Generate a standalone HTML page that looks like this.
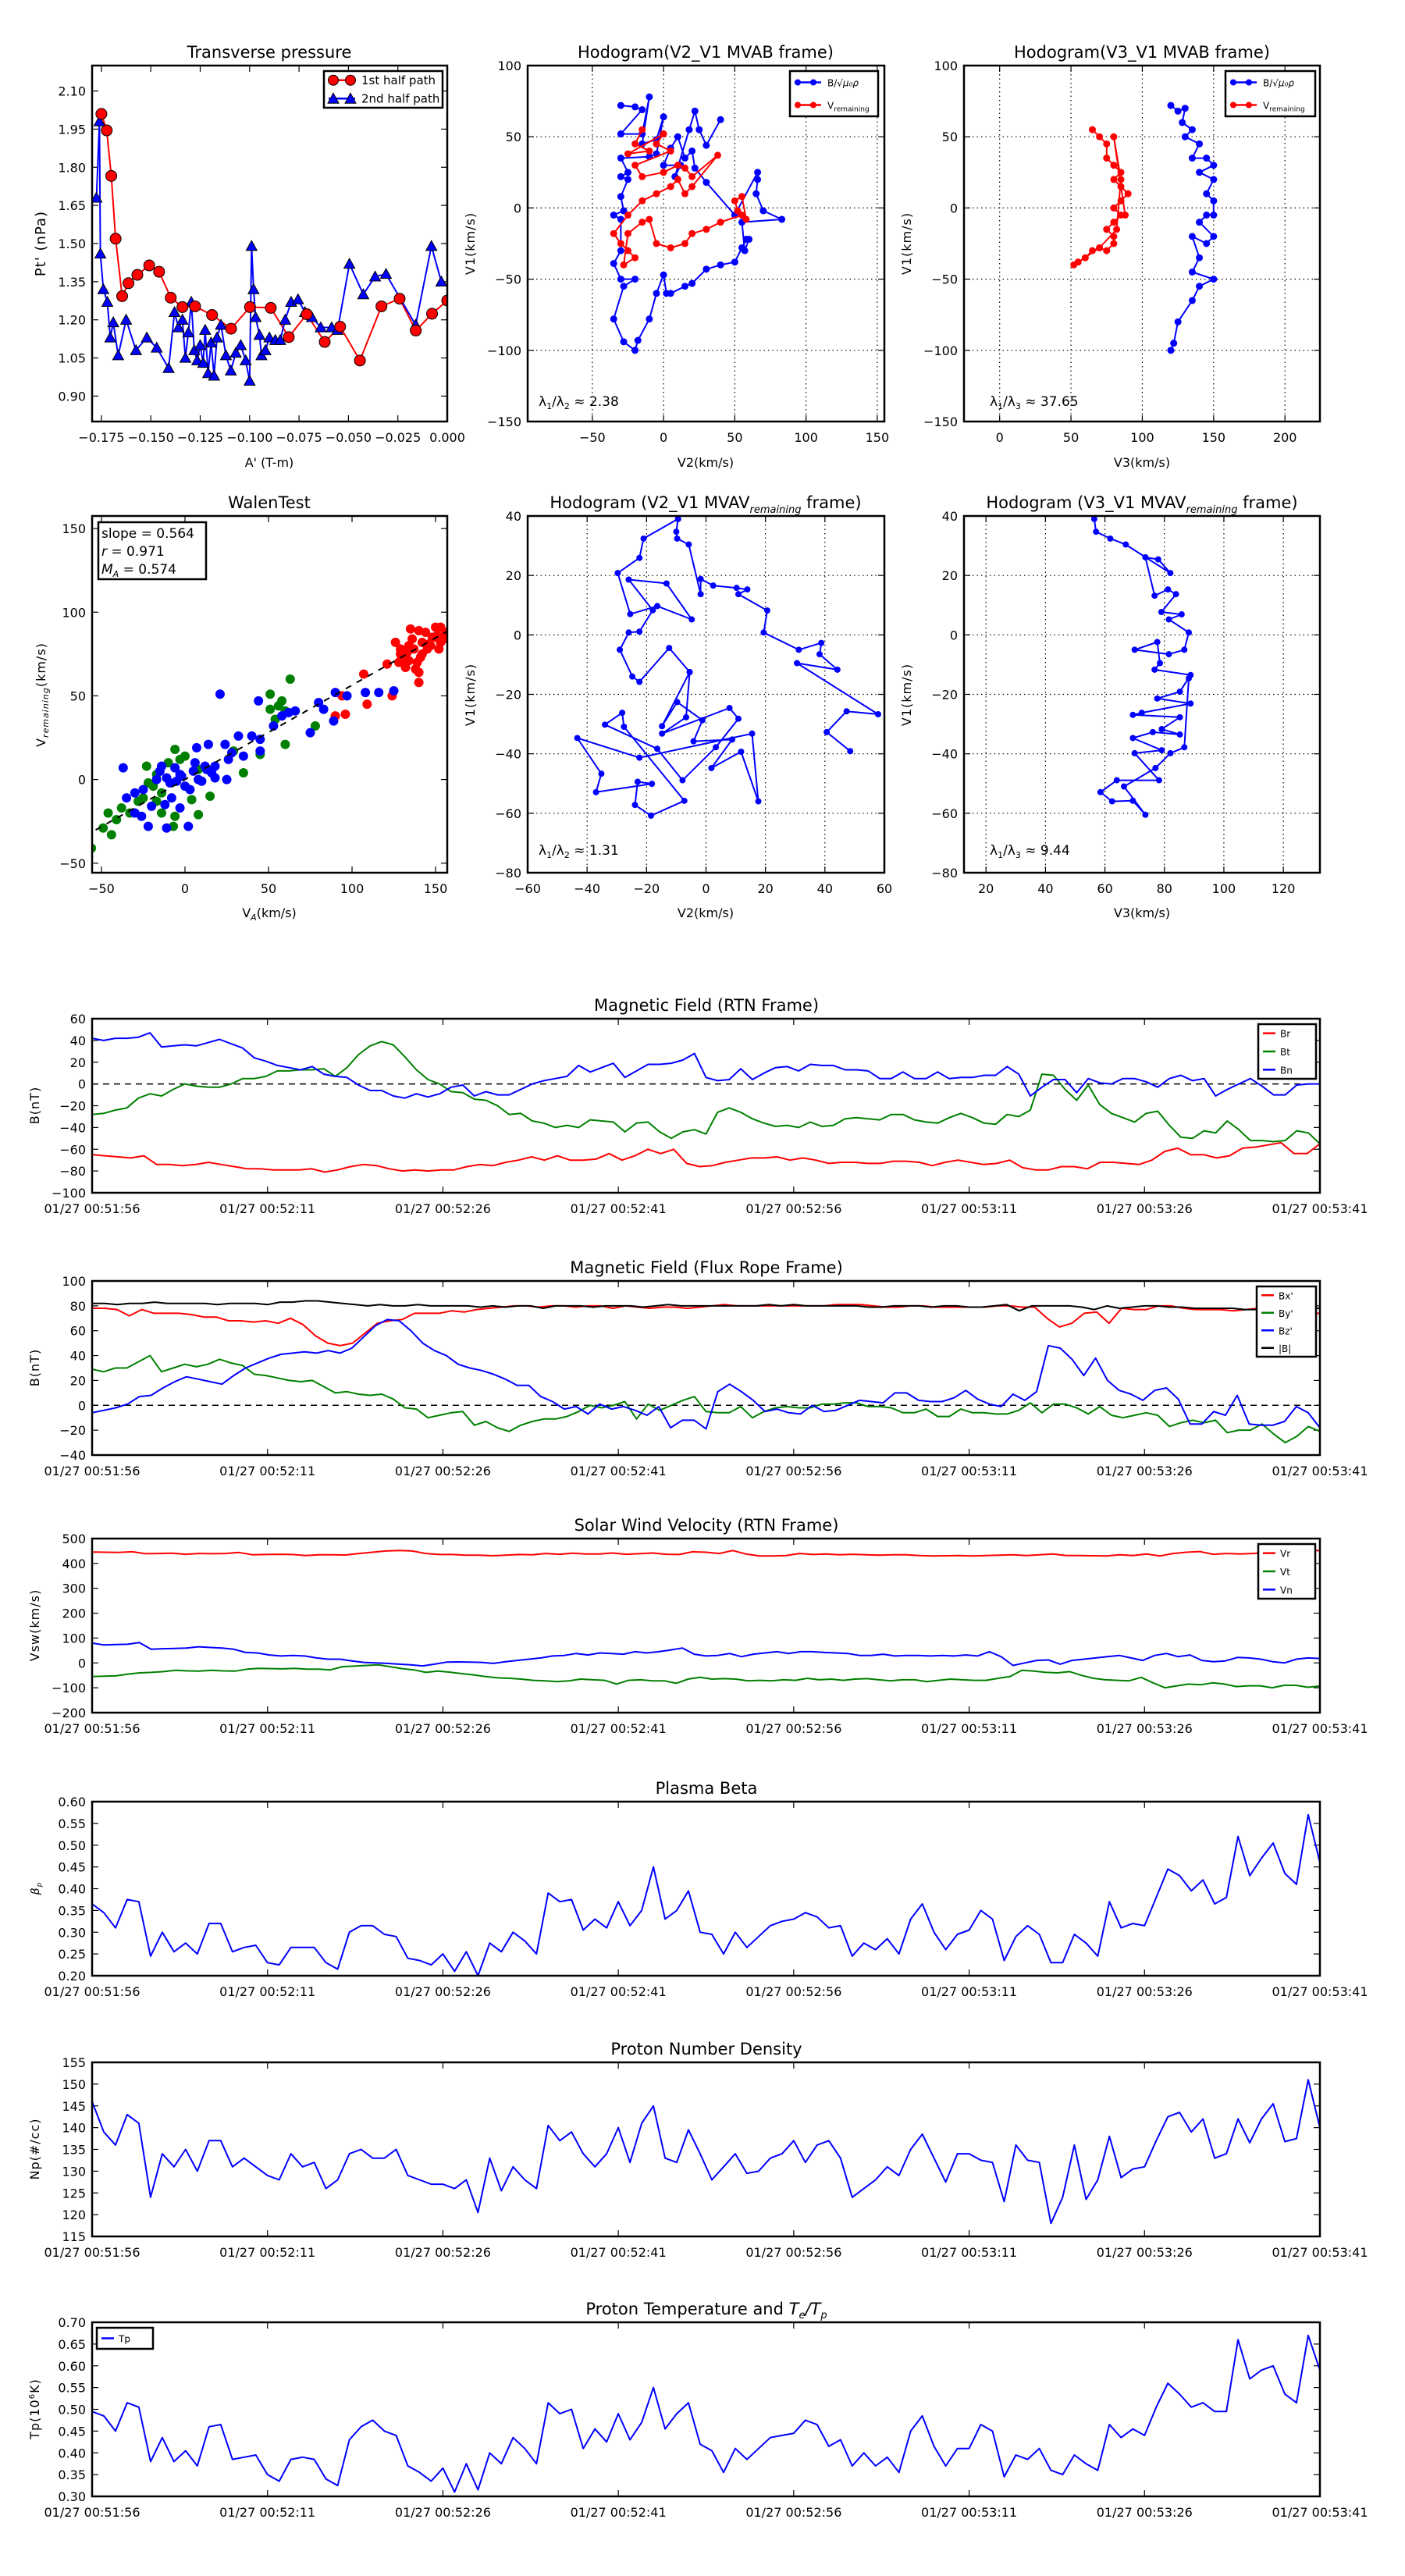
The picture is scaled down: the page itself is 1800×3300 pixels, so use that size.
<!DOCTYPE html>
<html><head><meta charset="utf-8">
<style>
html,body{margin:0;padding:0;background:#fff;}
svg{display:block;font-family:"DejaVu Sans","Liberation Sans",sans-serif;}
</style></head>
<body>
<svg id="fig" xmlns="http://www.w3.org/2000/svg" width="1800" height="3300" viewBox="0 0 1800 3300"></svg>
<script>
// ===== Transverse pressure =====
const ptRedX=[-0.175,-0.1723,-0.170,-0.1678,-0.1645,-0.1613,-0.1568,-0.1508,-0.1458,-0.1399,-0.134,-0.1276,-0.119,-0.1094,-0.0998,-0.0893,-0.0802,-0.0711,-0.062,-0.0542,-0.0442,-0.0333,-0.0241,-0.0159,-0.0077,0];
const ptRedY=[2.01,1.945,1.766,1.519,1.293,1.344,1.377,1.414,1.389,1.287,1.25,1.253,1.219,1.165,1.25,1.247,1.132,1.222,1.113,1.173,1.04,1.253,1.283,1.158,1.224,1.276];
const ptBlueX=[-0.1775,-0.176,-0.1755,-0.174,-0.172,-0.1705,-0.169,-0.1665,-0.1625,-0.1575,-0.152,-0.147,-0.141,-0.138,-0.136,-0.134,-0.1325,-0.131,-0.1295,-0.128,-0.1265,-0.125,-0.1235,-0.1225,-0.121,-0.1195,-0.118,-0.1165,-0.1145,-0.112,-0.1095,-0.107,-0.1045,-0.102,-0.1,-0.099,-0.098,-0.097,-0.095,-0.094,-0.092,-0.09,-0.087,-0.0845,-0.082,-0.079,-0.0755,-0.072,-0.0685,-0.064,-0.0585,-0.0555,-0.0495,-0.0425,-0.0365,-0.031,-0.016,-0.008,-0.003];
const ptBlueY=[1.68,1.98,1.46,1.32,1.27,1.13,1.19,1.06,1.2,1.08,1.13,1.09,1.01,1.23,1.17,1.2,1.05,1.15,1.27,1.08,1.04,1.1,1.03,1.16,0.99,1.11,0.98,1.13,1.18,1.06,1.0,1.07,1.1,1.04,0.96,1.49,1.32,1.21,1.14,1.06,1.08,1.13,1.12,1.12,1.2,1.27,1.28,1.23,1.21,1.17,1.17,1.16,1.42,1.3,1.37,1.38,1.18,1.49,1.35];
// ===== Hodogram V2-V1 MVAB =====
const h1BlueX=[-30,-20,-15,-30,-15,-10,-15,-5,0,-5,-10,-30,-25,-30,-25,-30,-28,-35,-30,-30,-35,-30,-20,-28,-35,-28,-20,-18,-10,-5,0,2,5,15,20,30,40,50,55,58,60,57,55,83,70,65,66,66,50,30,22,20,15,10,5,0,12,8,18,22,25,30,40];
const h1BlueY=[72,71,69,52,52,78,45,48,64,38,36,35,25,22,20,8,-2,-5,-8,-30,-39,-50,-50,-55,-78,-94,-100,-93,-78,-60,-47,-60,-60,-55,-53,-43,-40,-38,-28,-22,-22,-30,-10,-8,-2,10,20,25,-5,18,28,40,35,50,42,30,30,22,55,68,55,44,62];
const h1RedX=[-15,-20,-10,-25,0,-5,5,-20,-15,0,10,15,20,38,20,15,10,5,-5,-15,-25,-35,-30,-25,-20,-28,-25,-15,-10,-5,5,15,20,30,40,55,52,50,55,58];
const h1RedY=[55,45,40,38,52,45,40,30,22,25,30,28,22,37,15,10,20,15,10,5,-5,-18,-25,-30,-35,-40,-18,-10,-8,-25,-28,-25,-18,-15,-10,-5,-2,5,8,-8];
// ===== Hodogram V3-V1 MVAB =====
const h2BlueX=[120,125,130,128,135,130,140,135,145,150,140,150,145,150,150,145,140,150,145,135,140,135,150,140,135,125,122,120];
const h2BlueY=[72,68,70,60,55,50,45,35,35,30,25,20,10,5,-5,-5,-10,-20,-25,-20,-35,-45,-50,-55,-65,-80,-95,-100];
const h2RedX=[65,70,75,75,80,85,80,85,90,85,80,85,80,75,80,80,75,70,65,60,55,52,70,82,85,80,88];
const h2RedY=[55,50,45,35,30,25,20,15,10,5,0,-5,-10,-15,-20,-25,-30,-28,-30,-35,-38,-40,-28,-15,20,50,-5];
// ===== Walen test =====
const wRedX=[126,129,134,137,140,142,148,150,153,145,132,140,121,107,140,124,109,96,90,94,134,142,150,153,129,131,136,139,144,147,151,155,128,133,138,146,152,156,135,141];
const wRedY=[82,75,71,78,89,82,85,91,82,78,67,64,69,63,58,50,45,39,38,50,80,75,85,91,78,72,84,70,88,80,86,84,70,76,66,81,78,88,90,73];
const wBlueX=[21,44,90,97,108,116,125,80,83,66,53,45,32,24,14,7,45,35,26,18,13,5,-3,-11,-17,-25,-30,-35,-30,-22,-11,2,-3,-8,0,8,18,25,12,-37,-15,-6,-14,75,89,-5,-9,-2,3,6,-12,-20,-26,10,16,28,40,58,62];
const wBlueY=[51,47,52,50,52,52,53,46,42,41,32,24,26,21,21,19,17,14,12,8,6,5,3,1,0,-6,-8,-11,-20,-28,-29,-28,-17,-11,-4,0,1,0,8,7,5,7,8,28,35,-1,-2,2,-6,10,-15,-16,-22,-1,4,16,26,38,40];
const wGreenX=[63,51,58,51,60,78,60,35,45,29,8,-6,0,-23,-17,-22,-14,-17,-25,-38,-46,-41,-49,-44,-56,8,15,-6,-14,-7,-10,-3,4,-19,-28,-33,54,56];
const wGreenY=[60,51,47,42,41,32,21,4,15,17,6,18,14,8,3,-2,-8,-13,-11,-17,-20,-24,-29,-33,-41,-21,-10,-22,-20,-28,10,12,-12,-4,-13,-20,36,44];
const walenSlope=[0.564];
// ===== Hodogram MVAV V2-V1 =====
const h3X=[-9.4,-10,-9.7,-5.8,-1.8,-1.8,2.4,10.3,13.9,10.9,20.6,19.4,31.2,38.8,38.2,44.2,30.6,57.9,47.3,40.6,48.5];
const h3Y=[39,34.7,32.4,30.4,13.7,18.8,16.6,15.8,15.3,13.7,8.2,0.8,-5,-2.7,-6.5,-11.7,-9.5,-26.7,-25.7,-32.7,-39.1];
const h3bX=[-9.4,-21,-22.4,-29.7,-25.5,-16.4,-4.8,-13.3,-26,-17.9,-22.4,-26,-29,-24.8,-22.4,-12.4,-5.5,-6.7,-14.8,7.9,10.9,3.3,-7.9,-16.4,-34,-28.2,-27.6,-7.3,-18.5,-23.9,-23,-18.2,-37,-35.2,-43.3,-22.4,15.5,17.6,11.8,1.8,8.8,-4.2,-1.2,-9.7,-14.8,-5.5];
const h3bY=[39,32.4,25.9,20.8,7,9.7,5.2,17.3,18.6,8.3,1.1,0.8,-5,-14,-15.8,-4.4,-12.5,-27.7,-33.2,-24.6,-28.2,-37.8,-48.9,-38.3,-30.2,-26.2,-30.9,-55.8,-60.8,-57.2,-49.4,-50.1,-52.9,-46.7,-34.7,-41.3,-33.2,-56,-39.3,-44.8,-35.2,-35.8,-28.7,-22.6,-30.7,-12.5];
// ===== Hodogram MVAV V3-V1 =====
const h4X=[56.4,57,61.8,67,82,77.9,73.6,76.7,81.2,83.9,79,85.8,81.5,88.2,86.7,81.5,70,77.6,78.5,76.7,88.8,85.2,77.6,88.8,72.4,69.4,85.2,79.1,85.2,76.1,69.4,79.1,70,78.2,64,58.5,62.4,69.4,73.6,66.4,77,82,86.7,88.2];
const h4Y=[39,34.7,32.4,30.4,20.8,25.4,26.1,13.2,15.3,13.7,7.7,6.9,5.2,0.8,-5,-6.5,-5,-2.4,-9.5,-11.7,-13.5,-19.1,-21.4,-23.1,-26.2,-26.9,-27.7,-31.7,-33.5,-32.7,-34.7,-38.8,-39.8,-48.9,-48.9,-52.9,-56,-55.8,-60.5,-51,-44.8,-39.8,-37.8,-14.6];
// ===== Time series =====
const timeTicks=["01/27 00:51:56","01/27 00:52:11","01/27 00:52:26","01/27 00:52:41","01/27 00:52:56","01/27 00:53:11","01/27 00:53:26","01/27 00:53:41"];
const Br=[-65,-66,-67,-68,-66,-74,-74,-75,-74,-72,-74,-76,-78,-78,-79,-79,-79,-78,-81,-79,-76,-74,-75,-78,-80,-79,-80,-79,-79,-76,-74,-75,-72,-70,-67,-70,-66,-70,-70,-69,-64,-70,-66,-60,-64,-60,-73,-76,-75,-72,-70,-68,-68,-67,-70,-68,-70,-73,-72,-72,-73,-73,-71,-71,-72,-75,-72,-70,-72,-74,-73,-70,-77,-79,-79,-76,-76,-78,-72,-72,-73,-74,-70,-62,-59,-65,-65,-68,-66,-59,-58,-56,-54,-64,-64,-55];
const Bt=[-28,-27,-24,-22,-13,-9,-11,-5,0,-2,-3,-3,0,5,5,7,12,12,13,13,14,7,15,27,35,39,36,25,13,4,0,-7,-8,-14,-15,-20,-28,-27,-34,-36,-40,-38,-40,-33,-34,-35,-44,-36,-35,-44,-50,-44,-42,-46,-26,-22,-26,-32,-36,-39,-38,-40,-35,-39,-38,-32,-31,-32,-33,-28,-28,-33,-35,-36,-31,-27,-31,-36,-37,-28,-30,-24,9,8,-5,-15,-1,-19,-27,-31,-35,-27,-25,-38,-49,-50,-43,-45,-34,-42,-52,-52,-53,-52,-43,-45,-55];
const Bn=[42,40,42,42,43,47,34,35,36,35,38,41,37,33,24,21,17,15,13,16,9,7,6,-1,-6,-6,-11,-13,-9,-12,-9,-3,-1,-11,-7,-10,-10,-5,0,3,5,7,17,11,15,19,6,12,18,18,19,22,28,6,3,4,14,4,10,15,16,12,18,17,17,13,13,12,5,5,11,5,5,11,5,6,6,8,8,16,9,-11,-3,4,4,-8,5,1,0,5,5,2,-3,5,8,3,5,-11,-5,0,5,-2,-10,-10,-1,0,0];
const Bxp=[78,78,77,72,77,74,74,74,73,71,71,68,68,67,68,66,70,65,56,50,48,50,58,66,68,69,74,74,74,76,75,77,78,79,80,80,79,80,80,79,80,80,78,80,79,78,79,79,78,79,80,81,80,80,80,80,80,80,80,80,81,81,81,80,79,79,80,80,79,79,79,79,79,80,80,79,79,70,63,66,74,75,66,78,77,77,80,80,78,77,77,77,76,77,78,73,76,75,74,74];
const Byp=[29,27,30,30,35,40,27,30,33,31,33,37,34,32,25,24,22,20,19,20,15,10,11,9,8,9,5,-2,-3,-10,-8,-6,-5,-16,-13,-18,-21,-16,-13,-11,-11,-9,-5,0,-2,0,3,-11,1,-4,0,4,7,-5,-6,-6,-1,-10,-5,-2,-1,-2,-2,1,1,2,2,-1,-1,-2,-6,-6,-3,-9,-9,-3,-6,-6,-7,-7,-4,2,-6,1,1,-2,-7,-1,-8,-10,-8,-6,-8,-17,-14,-12,-14,-12,-22,-20,-20,-15,-23,-30,-25,-17,-21];
const Bzp=[-6,-4,-2,1,7,8,14,19,23,21,19,17,24,30,34,38,41,42,43,42,44,42,46,55,64,69,68,60,50,44,40,33,30,28,25,21,16,16,7,3,-3,-1,-7,1,-3,-1,-4,-8,-1,-18,-12,-12,-19,11,17,11,4,-5,-3,-6,-7,0,-5,-4,0,4,3,2,10,10,4,3,3,6,12,5,1,-1,9,4,11,48,46,37,24,38,20,12,9,4,12,14,5,-15,-15,-5,-8,8,-15,-16,-16,-13,-1,-6,-18];
const Bmag=[82,82,81,82,82,83,82,82,82,82,81,82,82,82,81,83,83,84,84,83,82,81,80,81,80,80,81,80,80,80,80,79,80,79,80,80,78,80,80,80,79,80,80,80,79,80,81,80,80,80,80,80,80,80,81,80,81,80,80,80,80,80,79,79,80,80,80,79,80,80,79,79,80,81,76,80,80,80,80,79,77,80,78,79,80,80,79,79,78,78,78,78,77,77,78,78,78,78,78];
const Vr=[446,445,444,447,439,440,441,437,440,439,440,444,435,436,437,436,432,435,435,434,440,445,450,452,450,440,436,436,433,433,431,433,436,435,440,437,441,438,438,442,437,439,442,437,436,447,445,440,452,438,430,430,432,440,436,438,435,437,435,433,435,435,432,430,431,432,430,432,433,435,432,435,438,432,432,431,430,435,432,438,430,440,445,448,437,440,438,440,445,450,452,450,452];
const Vt=[-55,-53,-52,-45,-40,-38,-35,-30,-32,-33,-30,-32,-33,-25,-22,-23,-24,-22,-25,-25,-28,-15,-13,-10,-8,-15,-23,-28,-38,-33,-37,-43,-48,-55,-60,-62,-65,-70,-72,-75,-72,-65,-68,-70,-85,-70,-68,-72,-72,-82,-65,-58,-65,-63,-65,-72,-70,-72,-68,-70,-62,-68,-65,-70,-65,-63,-68,-72,-68,-68,-75,-70,-65,-68,-70,-70,-62,-55,-30,-33,-38,-40,-35,-50,-62,-68,-70,-72,-58,-80,-100,-92,-85,-88,-80,-85,-95,-92,-92,-100,-90,-90,-98,-93];
const Vn=[80,72,74,75,82,55,57,58,60,65,62,60,55,42,40,32,28,30,28,20,15,15,8,2,0,-2,-5,-8,-12,-5,3,4,3,2,-2,5,10,15,20,28,30,38,32,40,38,35,45,40,45,52,60,35,28,30,38,25,35,40,45,38,45,45,42,40,38,30,30,35,28,30,30,28,30,28,32,28,45,25,-10,0,10,12,-5,10,15,20,25,30,20,10,30,38,25,32,10,5,8,22,20,15,5,0,15,20,18];
const beta=[.365,.345,.31,.375,.37,.245,.30,.255,.275,.25,.32,.32,.255,.265,.27,.23,.225,.265,.265,.265,.23,.215,.30,.315,.315,.295,.29,.24,.235,.225,.25,.21,.255,.20,.275,.255,.30,.28,.25,.39,.37,.375,.305,.33,.31,.37,.315,.35,.45,.33,.35,.395,.30,.295,.25,.30,.265,.29,.315,.325,.33,.345,.335,.31,.315,.245,.275,.26,.285,.25,.33,.365,.30,.26,.295,.305,.35,.33,.235,.29,.315,.295,.23,.23,.295,.275,.245,.37,.31,.32,.315,.38,.445,.43,.395,.42,.365,.38,.52,.43,.47,.505,.435,.41,.57,.46];
const Np=[146,139,136,143,141,124,134,131,135,130,137,137,131,133,131,129,128,134,131,132,126,128,134,135,133,133,135,129,128,127,127,126,128,120.5,133,125.5,131,128,126,140.5,137,139,134,131,134,140,132,141,145,133,132,139.5,134,128,131,134,129.5,130,133,134,137,132,136,137,133,124,126,128,131,129,135,138.5,133,127.5,134,134,132.5,132,123,136,132.5,132,118,124,136,123.5,128,138,128.5,130.5,131,137,142.5,143.5,139,142,133,134,142,136.5,142,145.5,136.8,137.5,151,140];
const Tp=[.495,.485,.45,.515,.505,.38,.435,.38,.405,.37,.46,.465,.385,.39,.395,.35,.335,.385,.39,.385,.34,.325,.43,.46,.475,.45,.44,.37,.355,.335,.365,.31,.375,.315,.40,.375,.435,.41,.375,.515,.49,.50,.41,.455,.425,.49,.43,.47,.55,.455,.49,.515,.42,.405,.355,.41,.385,.41,.435,.44,.445,.475,.465,.415,.43,.37,.40,.37,.39,.355,.45,.485,.415,.37,.41,.41,.465,.45,.345,.395,.385,.41,.36,.35,.395,.375,.36,.465,.435,.455,.44,.505,.56,.535,.505,.515,.495,.495,.66,.57,.59,.60,.535,.515,.67,.59];

const NS="http://www.w3.org/2000/svg";
const svg=document.getElementById('fig');
function mk(tag,parent){const e=document.createElementNS(NS,tag);parent.appendChild(e);return e;}
let clipId=0;
function txt(parent,x,y,s,size,anchor){
  const t=mk('text',parent);
  t.setAttribute('x',x);t.setAttribute('y',y);
  t.setAttribute('font-size',size);t.setAttribute('text-anchor',anchor||'middle');
  t.textContent=s;return t;
}
function range(a,b,st){const r=[];for(let v=a;v<=b+st*1e-6;v+=st)r.push(v);return r;}

function axes(name,x0,y0,w,h,xl,yl,xt,yt,xd,yd,grid,xLabels){
  const g=mk('g',svg);
  
  
  const sx=v=>x0+(v-xl[0])/(xl[1]-xl[0])*w;
  const sy=v=>y0+h-(v-yl[0])/(yl[1]-yl[0])*h;
  const cid='c'+(clipId++);
  const cp=mk('clipPath',g);cp.setAttribute('id',cid);
  const cr=mk('rect',cp);cr.setAttribute('x',x0);cr.setAttribute('y',y0);cr.setAttribute('width',w);cr.setAttribute('height',h);
  const tg=mk('g',g);
  
  
  xt.forEach((v,i)=>{
    const X=sx(v);
    if(grid){const l=mk('line',g);l.setAttribute('x1',X);l.setAttribute('x2',X);l.setAttribute('y1',y0);l.setAttribute('y2',y0+h);l.setAttribute('stroke','#000');l.setAttribute('stroke-dasharray','1.5,4');l.setAttribute('stroke-width','1.2');}
    for(const [a,b] of [[y0+h,y0+h-8],[y0,y0+8]]){const l=mk('line',g);l.setAttribute('x1',X);l.setAttribute('x2',X);l.setAttribute('y1',a);l.setAttribute('y2',b);l.setAttribute('stroke','#000');l.setAttribute('stroke-width','1.2');}
    const s=xLabels?xLabels[i]:(Math.abs(v)<1e-9?(0).toFixed(xd):v.toFixed(xd)).replace('-','\u2212');
    const t=txt(tg,X,y0+h+26,s,16);
    
    
  });
  yt.forEach(v=>{
    const Y=sy(v);
    if(grid){const l=mk('line',g);l.setAttribute('x1',x0);l.setAttribute('x2',x0+w);l.setAttribute('y1',Y);l.setAttribute('y2',Y);l.setAttribute('stroke','#000');l.setAttribute('stroke-dasharray','1.5,4');l.setAttribute('stroke-width','1.2');}
    for(const [a,b] of [[x0,x0+8],[x0+w,x0+w-8]]){const l=mk('line',g);l.setAttribute('x1',a);l.setAttribute('x2',b);l.setAttribute('y1',Y);l.setAttribute('y2',Y);l.setAttribute('stroke','#000');l.setAttribute('stroke-width','1.2');}
    const s=(Math.abs(v)<1e-9?(0).toFixed(yd):v.toFixed(yd)).replace('-','\u2212');
    const t=txt(tg,x0-8,Y+6,s,16,'end');
    
    
  });
  const plot=mk('g',g);plot.setAttribute('clip-path','url(#'+cid+')');
  
  
  const fr=mk('rect',g);fr.setAttribute('x',x0);fr.setAttribute('y',y0);fr.setAttribute('width',w);fr.setAttribute('height',h);fr.setAttribute('fill','none');fr.setAttribute('stroke','#000');fr.setAttribute('stroke-width','2.5');
  
  
  return {g,plot,sx,sy,x0,y0,w,h};
}
function line(ax,xs,ys,color,sw,name){
  const p=mk('polyline',ax.plot);
  p.setAttribute('points',xs.map((x,i)=>ax.sx(x).toFixed(1)+','+ax.sy(ys[i]).toFixed(1)).join(' '));
  p.setAttribute('fill','none');p.setAttribute('stroke',color);p.setAttribute('stroke-width',sw||2);p.setAttribute('stroke-linejoin','round');
  
  
  return p;
}
function dots(ax,xs,ys,color,r,stroke,name){
  xs.forEach((x,i)=>{
    const c=mk('circle',ax.plot);
    c.setAttribute('cx',ax.sx(x));c.setAttribute('cy',ax.sy(ys[i]));c.setAttribute('r',r);c.setAttribute('fill',color);
    if(stroke){c.setAttribute('stroke',stroke);c.setAttribute('stroke-width',1);}
    
    
  });
}
function tris(ax,xs,ys,color,s,name){
  xs.forEach((x,i)=>{
    const X=ax.sx(x),Y=ax.sy(ys[i]);
    const p=mk('polygon',ax.plot);
    p.setAttribute('points',`${X},${Y-s} ${X-s},${Y+s*0.8} ${X+s},${Y+s*0.8}`);
    p.setAttribute('fill',color);p.setAttribute('stroke','#000');p.setAttribute('stroke-width',1);
    
    
  });
}
function title(x,y,s,name){const t=txt(svg,x,y,s,21);return t;}
function ylab(x,y,s,name,size){const t=txt(svg,0,0,s,size||16);t.setAttribute('transform',`translate(${x},${y}) rotate(-90)`);t.setAttribute('letter-spacing','1');return t;}
function xlab(x,y,s,name){const t=txt(svg,x,y,s,16);return t;}
function legend(x,y,w,h,items,name,fs){
  const g=mk('g',svg);
  
  
  const r=mk('rect',g);r.setAttribute('x',x);r.setAttribute('y',y);r.setAttribute('width',w);r.setAttribute('height',h);r.setAttribute('fill','#fff');r.setAttribute('stroke','#000');r.setAttribute('stroke-width','2.5');
  const step=h/items.length;
  items.forEach((it,i)=>{
    const cy=y+step*(i+0.5);
    const l=mk('line',g);l.setAttribute('x1',x+6);l.setAttribute('x2',x+(it.m?40:22));l.setAttribute('y1',cy);l.setAttribute('y2',cy);l.setAttribute('stroke',it.c);l.setAttribute('stroke-width',2.5);
    if(it.m==='o'){[x+12,x+34].forEach(cx=>{const c=mk('circle',g);c.setAttribute('cx',cx);c.setAttribute('cy',cy);c.setAttribute('r',6.5);c.setAttribute('fill',it.c);c.setAttribute('stroke','#000');});}
    if(it.m==='^'){[x+12,x+34].forEach(cx=>{const p=mk('polygon',g);p.setAttribute('points',`${cx},${cy-7} ${cx-7},${cy+6} ${cx+7},${cy+6}`);p.setAttribute('fill',it.c);p.setAttribute('stroke','#000');});}
    if(it.m==='d'){[x+10,x+30].forEach(cx=>{const c=mk('circle',g);c.setAttribute('cx',cx);c.setAttribute('cy',cy);c.setAttribute('r',4);c.setAttribute('fill',it.c);});}
    const t=txt(g,x+(it.m?48:28),cy+5,'',fs||13,'start');
    t.innerHTML=it.t;
    
    
  });
}

// ---- Row 1 ----
title(345,74,'Transverse pressure','transverse-pressure-title');
const a1=axes('transverse-pressure-axes',118,84,455,456,[-0.1797,0],[0.8,2.2],range(-0.175,0,0.025),range(0.9,2.1,0.15),3,2,false);
line(a1,ptRedX,ptRedY,'#f00',2,'first-half-line');
line(a1,ptBlueX,ptBlueY,'#00f',2,'second-half-line');
tris(a1,ptBlueX,ptBlueY,'#00f',7,'second-half-marker');
dots(a1,ptRedX,ptRedY,'#f00',7,'#000','first-half-marker');
ylab(58,312,"Pt' (nPa)",'y-axis-title',18);
xlab(345,598,"A' (T-m)",'x-axis-title');
legend(415,91,152,47,[{c:'#f00',m:'o',t:'1st half path'},{c:'#00f',m:'^',t:'2nd half path'}],'pressure-legend',15);

title(904,74,'Hodogram(V2_V1 MVAB frame)','hodogram-v2-title');
const a2=axes('hodogram-v2-axes',676,84,457,456,[-95.4,155],[-150,100],range(-50,150,50),range(-150,100,50),0,0,true);
line(a2,h1BlueX,h1BlueY,'#00f',2,'b-hodogram-line');dots(a2,h1BlueX,h1BlueY,'#00f',4.5,null,'b-hodogram-point');
line(a2,h1RedX,h1RedY,'#f00',2,'v-hodogram-line');dots(a2,h1RedX,h1RedY,'#f00',4.5,null,'v-hodogram-point');
ylab(608,312,'V1(km/s)','y-axis-title');
xlab(904,598,'V2(km/s)','x-axis-title');
legend(1012,91,113,58,[{c:'#00f',m:'d',t:'B/<tspan font-style="italic">\u221A\u03BC\u2080\u03C1</tspan>'},{c:'#f00',m:'d',t:'V<tspan font-size="9" dy="3">remaining</tspan>'}],'hodogram-v2-legend',12);
{const t=txt(svg,690,520,'',17,'start');t.innerHTML='\u03BB<tspan font-size="11" dy="4">1</tspan><tspan dy="-4">/\u03BB</tspan><tspan font-size="11" dy="4">2</tspan><tspan dy="-4"> \u2248 2.38</tspan>';}

title(1463,74,'Hodogram(V3_V1 MVAB frame)','hodogram-v3-title');
const a3=axes('hodogram-v3-axes',1235,84,456,456,[-25,224.5],[-150,100],range(0,200,50),range(-150,100,50),0,0,true);
line(a3,h2BlueX,h2BlueY,'#00f',2,'b-hodogram-line');dots(a3,h2BlueX,h2BlueY,'#00f',4.5,null,'b-hodogram-point');
line(a3,h2RedX,h2RedY,'#f00',2,'v-hodogram-line');dots(a3,h2RedX,h2RedY,'#f00',4.5,null,'v-hodogram-point');
ylab(1167,312,'V1(km/s)','y-axis-title');
xlab(1463,598,'V3(km/s)','x-axis-title');
legend(1570,91,115,58,[{c:'#00f',m:'d',t:'B/<tspan font-style="italic">\u221A\u03BC\u2080\u03C1</tspan>'},{c:'#f00',m:'d',t:'V<tspan font-size="9" dy="3">remaining</tspan>'}],'hodogram-v3-legend',12);
{const t=txt(svg,1268,520,'',17,'start');t.innerHTML='\u03BB<tspan font-size="11" dy="4">1</tspan><tspan dy="-4">/\u03BB</tspan><tspan font-size="11" dy="4">3</tspan><tspan dy="-4"> \u2248 37.65</tspan>';}

// ---- Row 2 ----
title(345,651,'WalenTest','walen-title');
const a4=axes('walen-axes',118,661,455,457,[-55.6,157],[-55.7,157.5],range(-50,150,50),range(-50,150,50),0,0,false);
dots(a4,wRedX,wRedY,'#f00',6,null,'walen-red-point');
dots(a4,wGreenX,wGreenY,'#008000',6,null,'walen-green-point');
dots(a4,wBlueX,wBlueY,'#00f',6,null,'walen-blue-point');
{const fx=[-60,160];const p=line(a4,fx,fx.map(v=>v*walenSlope[0]),'#000',2,'walen-fit-line');p.setAttribute('stroke-dasharray','8,8');}
{const g=mk('g',svg);
 const r=mk('rect',g);r.setAttribute('x',126);r.setAttribute('y',669);r.setAttribute('width',138);r.setAttribute('height',73);r.setAttribute('fill','#fff');r.setAttribute('stroke','#000');r.setAttribute('stroke-width','2.5');
 txt(g,130,689,'slope = 0.564',17,'start');
 const t2=txt(g,130,712,'',17,'start');t2.innerHTML='<tspan font-style="italic">r</tspan> = 0.971';
 const t3=txt(g,130,735,'',17,'start');t3.innerHTML='<tspan font-style="italic">M</tspan><tspan font-size="11" dy="4" font-style="italic">A</tspan><tspan dy="-4"> = 0.574</tspan>';}
{const t=ylab(58,890,'','y-axis-title',16);t.innerHTML='V<tspan font-size="11" font-style="italic" dy="4">remaining</tspan><tspan dy="-4">(km/s)</tspan>';}
{const t=xlab(345,1175,'','x-axis-title');t.innerHTML='V<tspan font-size="11" font-style="italic" dy="4">A</tspan><tspan dy="-4">(km/s)</tspan>';}

{const t=title(904,651,'','hodogram-mvav-v2-title');t.innerHTML='Hodogram (V2_V1 MVAV<tspan font-size="13" font-style="italic" dy="6">remaining</tspan><tspan dy="-6"> frame)</tspan>';}
const a5=axes('hodogram-mvav-v2-axes',676,661,457,457,[-60,60],[-80,40],range(-60,60,20),range(-80,40,20),0,0,true);
line(a5,h3X,h3Y,'#00f',2,'hodogram-line');dots(a5,h3X,h3Y,'#00f',4,null,'hodogram-point');
line(a5,h3bX,h3bY,'#00f',2,'hodogram-line');dots(a5,h3bX,h3bY,'#00f',4,null,'hodogram-point');
ylab(608,890,'V1(km/s)','y-axis-title');
xlab(904,1175,'V2(km/s)','x-axis-title');
{const t=txt(svg,690,1095,'',17,'start');t.innerHTML='\u03BB<tspan font-size="11" dy="4">1</tspan><tspan dy="-4">/\u03BB</tspan><tspan font-size="11" dy="4">2</tspan><tspan dy="-4"> \u2248 1.31</tspan>';}

{const t=title(1463,651,'','hodogram-mvav-v3-title');t.innerHTML='Hodogram (V3_V1 MVAV<tspan font-size="13" font-style="italic" dy="6">remaining</tspan><tspan dy="-6"> frame)</tspan>';}
const a6=axes('hodogram-mvav-v3-axes',1235,661,456,457,[12.6,132.3],[-80,40],range(20,120,20),range(-80,40,20),0,0,true);
line(a6,h4X,h4Y,'#00f',2,'hodogram-line');dots(a6,h4X,h4Y,'#00f',4,null,'hodogram-point');
ylab(1167,890,'V1(km/s)','y-axis-title');
xlab(1463,1175,'V3(km/s)','x-axis-title');
{const t=txt(svg,1268,1095,'',17,'start');t.innerHTML='\u03BB<tspan font-size="11" dy="4">1</tspan><tspan dy="-4">/\u03BB</tspan><tspan font-size="11" dy="4">3</tspan><tspan dy="-4"> \u2248 9.44</tspan>';}

// ---- Time series ----
const TX0=118,TW=1573,TH=223;
function tsAxes(name,top,yl,yt,yd){return axes(name,TX0,top,TW,TH,[0,105],yl,range(0,105,15),yt,0,yd,false,timeTicks);}
function ts(ax,arr,color,name){const xs=arr.map((v,i)=>i*105/(arr.length-1));return line(ax,xs,arr,color,2,name);}
function zero(ax){const p=line(ax,[0,105],[0,0],'#000',1.5,'zero-line');p.setAttribute('stroke-dasharray','8,6');}

title(905,1295,'Magnetic Field (RTN Frame)','magnetic-rtn-title');
const t1=tsAxes('magnetic-rtn-axes',1305,[-100,60],range(-100,60,20),0);
zero(t1);ts(t1,Br,'#f00','br-line');ts(t1,Bt,'#008000','bt-line');ts(t1,Bn,'#00f','bn-line');
ylab(50,1416,'B(nT)','y-axis-title');
legend(1612,1312,74,70,[{c:'#f00',t:'Br'},{c:'#008000',t:'Bt'},{c:'#00f',t:'Bn'}],'rtn-legend',12);

title(905,1631,'Magnetic Field (Flux Rope Frame)','magnetic-fluxrope-title');
const t2=tsAxes('magnetic-fluxrope-axes',1641,[-40,100],range(-40,100,20),0);
zero(t2);ts(t2,Bxp,'#f00','bx-line');ts(t2,Byp,'#008000','by-line');ts(t2,Bzp,'#00f','bz-line');ts(t2,Bmag,'#000','bmag-line');
ylab(50,1752,'B(nT)','y-axis-title');
legend(1610,1648,76,90,[{c:'#f00',t:"Bx'"},{c:'#008000',t:"By'"},{c:'#00f',t:"Bz'"},{c:'#000',t:'|B|'}],'fluxrope-legend',12);

title(905,1961,'Solar Wind Velocity (RTN Frame)','solar-wind-title');
const t3=tsAxes('solar-wind-axes',1971,[-200,500],range(-200,500,100),0);
ts(t3,Vr,'#f00','vr-line');ts(t3,Vt,'#008000','vt-line');ts(t3,Vn,'#00f','vn-line');
ylab(50,2082,'Vsw(km/s)','y-axis-title');
legend(1612,1978,73,70,[{c:'#f00',t:'Vr'},{c:'#008000',t:'Vt'},{c:'#00f',t:'Vn'}],'velocity-legend',12);

title(905,2298,'Plasma Beta','plasma-beta-title');
const t4=tsAxes('plasma-beta-axes',2308,[0.2,0.6],range(0.2,0.6,0.05),2);
ts(t4,beta,'#00f','beta-line');
{const t=ylab(50,2419,'','y-axis-title',14);t.innerHTML='<tspan font-style="italic">\u03B2</tspan><tspan font-size="9" font-style="italic" dy="3">p</tspan>';}

title(905,2632,'Proton Number Density','density-title');
const t5=tsAxes('density-axes',2642,[115,155],range(115,155,5),0);
ts(t5,Np,'#00f','density-line');
ylab(50,2753,'Np(#/cc)','y-axis-title');

{const t=title(905,2965,'','temperature-title');t.innerHTML='Proton Temperature and <tspan font-style="italic">T</tspan><tspan font-size="13" font-style="italic" dy="5">e</tspan><tspan dy="-5" font-style="italic">/T</tspan><tspan font-size="13" font-style="italic" dy="5">p</tspan>';}
const t6=tsAxes('temperature-axes',2975,[0.3,0.7],range(0.3,0.7,0.05),2);
ts(t6,Tp,'#00f','tp-line');
{const t=ylab(50,3086,'','y-axis-title',16);t.innerHTML='Tp(10<tspan font-size="10" dy="-6">6</tspan><tspan dy="6">K)</tspan>';}
legend(124,2982,72,27,[{c:'#00f',t:'Tp'}],'tp-legend',12);
</script>
</body></html>
